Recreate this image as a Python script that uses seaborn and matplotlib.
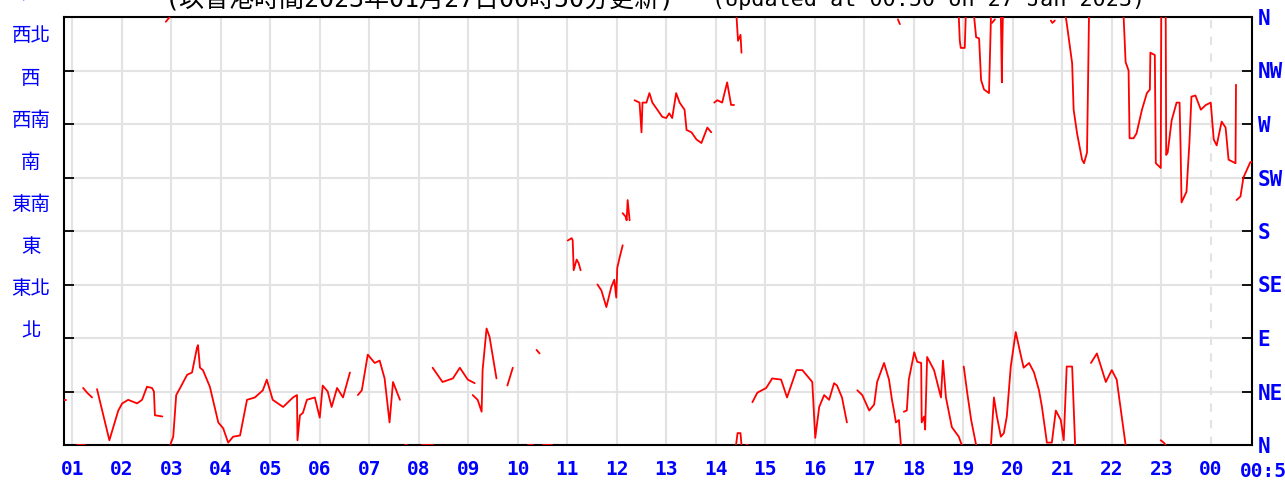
import matplotlib
matplotlib.use("Agg")
import matplotlib.pyplot as plt
import numpy as np
import pandas as pd
import seaborn as sns

# wind direction (deg) against time of day (decimal hours), None = gap in record
hours = [
    0.84, 0.88, None,
    1.10, 1.26, None,
    1.22, 1.30, 1.40, None,
    1.50, 1.75, 1.93, 2.01, 2.13, 2.31, 2.41, 2.51, 2.61, 2.65, 2.67, 2.82, None,
    2.89, 2.97, None,
    2.98, 3.04, 3.10, 3.18, 3.32, 3.42, 3.52, 3.54, 3.58, 3.64, 3.78, 3.95,
    4.05, 4.15, 4.25, 4.39, 4.53, 4.69, 4.85, 4.93, 5.05, 5.26, 5.46, 5.54,
    5.55, 5.60, 5.66, 5.74, 5.90, 6.00, 6.06, 6.16, 6.24, 6.35, 6.47, 6.61, None,
    6.77, 6.85, 6.97, 7.11, 7.21, 7.31, 7.41, 7.48, 7.62, None,
    7.72, 7.76, None,
    8.06, 8.28, None,
    8.28, 8.48, 8.69, 8.83, 8.99, 9.13, None,
    9.09, 9.19, 9.27, 9.29, 9.37, 9.43, 9.57, None,
    9.79, 9.90, None,
    10.20, 10.30, None,
    10.38, 10.44, None,
    10.50, 10.70, None,
    11.01, 11.09, 11.11, 11.13, 11.19, 11.23, 11.27, None,
    11.61, 11.69, 11.79, 11.89, 11.95, 11.99, 12.01, 12.06, 12.12, None,
    12.12, 12.18, 12.20, 12.22, 12.26, None,
    12.36, 12.46, 12.50, 12.52, 12.60, 12.66, 12.72, 12.82, 12.92, 13.00, 13.06,
    13.12, 13.20, 13.27, 13.37, 13.41, 13.51, 13.61, 13.71, 13.83, 13.91, None,
    13.97, 14.03, 14.13, 14.23, 14.31, 14.37, None,
    14.42, 14.45, 14.50, 14.52, None,
    14.41, 14.44, 14.50, 14.52, None,
    14.62, 14.66, None,
    14.74, 14.84, 15.02, 15.14, 15.32, 15.44, 15.63, 15.75, 15.95, 16.01, 16.09,
    16.19, 16.29, 16.39, 16.45, 16.55, 16.65, None,
    16.86, 16.96, 17.10, 17.20, 17.26, 17.40, 17.50, 17.56, 17.60, 17.64, 17.70, 17.74, None,
    17.68, 17.72, None,
    17.80, 17.86, 17.90, 18.01, 18.07, 18.15, 18.16, 18.21, 18.23, 18.27, 18.41,
    18.55, 18.59, 18.65, 18.77, 18.91, 18.97, None,
    19.01, 19.08, 19.16, 19.26, None,
    19.56, 19.62, 19.68, 19.76, 19.82, 19.88, 19.96, 20.06, 20.16, 20.22, 20.33,
    20.43, 20.53, 20.59, 20.69, 20.79, 20.87, 20.97, 21.03, 21.09, 21.20, 21.26, None,
    21.58, 21.70, 21.88, 22.00, 22.10, 22.28, None,
    22.99, 23.05, 23.09, None,
    18.91, 18.93, 18.95, 19.03, 19.05, None,
    19.22, 19.26, 19.32, 19.36, 19.42, 19.52, 19.56, None,
    19.58, 19.64, None,
    19.76, 19.78, 19.79, 19.80, None,
    20.77, 20.80, 20.85, None,
    21.07, 21.09, 21.20, 21.23, 21.30, 21.40, 21.44, 21.50, 21.52, 21.54, None,
    22.24, 22.28, 22.34, 22.36, 22.44, 22.50, 22.61, 22.71, 22.77, 22.78, 22.87,
    22.89, 22.99, 23.00, None,
    23.09, 23.10, 23.13, 23.21, 23.31, 23.37, 23.39, 23.41, 23.51, 23.57, 23.61,
    23.69, 23.80, 23.90, 24.00, 24.06, 24.12, 24.22, 24.30, 24.36, 24.50, 24.51, None,
    24.52, 24.60, 24.66, 24.80, 24.83,
]
direction = [
    38, 38, None,
    0, 0, None,
    48, 44, 40, None,
    47, 4, 29, 35, 38, 35, 38, 49, 48, 45, 25, 24, None,
    356, 360, None,
    0, 7, 42, 48, 59, 61, 82, 84, 65, 63, 49, 19,
    14, 2, 7, 8, 38, 40, 46, 55, 38, 32, 40, 42,
    4, 25, 27, 38, 40, 23, 50, 45, 32, 48, 40, 61, None,
    42, 46, 76, 69, 71, 56, 19, 53, 38, None,
    0, 0, None,
    0, 0, None,
    65, 53, 56, 65, 55, 52, None,
    42, 38, 28, 63, 98, 91, 56, None,
    50, 65, None,
    0, 0, None,
    80, 77, None,
    0, 0, None,
    172, 174, 172, 147, 156, 153, 147, None,
    135, 130, 116, 133, 139, 124, 149, 158, 168, None,
    195, 192, 189, 206, 189, None,
    290, 288, 263, 288, 288, 296, 288, 282, 276, 275, 279,
    275, 296, 288, 282, 265, 263, 257, 254, 267, 263, None,
    288, 290, 288, 305, 286, 286, None,
    360, 340, 345, 330, None,
    0, 10, 10, 0, None,
    0, 0, None,
    36, 44, 48, 56, 55, 40, 63, 63, 53, 6, 32,
    42, 38, 52, 50, 40, 19, None,
    46, 42, 29, 34, 53, 69, 55, 38, 29, 19, 21, 0, None,
    358, 354, None,
    28, 29, 55, 78, 70, 69, 19, 24, 13, 74, 63,
    40, 71, 40, 15, 7, 0, None,
    66, 44, 21, 0, None,
    0, 40, 24, 7, 10, 24, 66, 95, 76, 65, 69,
    61, 46, 32, 2, 2, 29, 21, 4, 66, 66, 0, None,
    69, 77, 53, 63, 55, 0, None,
    4, 2, 0, None,
    360, 340, 334, 334, 360, None,
    360, 343, 342, 307, 299, 296, 360, None,
    355, 358, None,
    360, 305, 338, 360, None,
    357, 355, 357, None,
    360, 355, 321, 282, 262, 240, 237, 246, 301, 360, None,
    360, 322, 315, 258, 258, 262, 282, 296, 299, 330, 328,
    237, 233, 360, None,
    360, 244, 246, 273, 288, 288, 251, 204, 213, 255, 293,
    294, 282, 286, 288, 257, 252, 272, 267, 240, 237, 303, None,
    206, 209, 225, 238, 238,
]

hour_labels = ["01", "02", "03", "04", "05", "06", "07", "08", "09", "10", "11", "12",
               "13", "14", "15", "16", "17", "18", "19", "20", "21", "22", "23", "00"]
compass_en = ["N", "NE", "E", "SE", "S", "SW", "W", "NW", "N"]
compass_zh = ["北", "西北", "西", "西南", "南", "東南", "東", "東北", "北"]
end_label = "00:50"
title_zh = "(以香港時間2023年01月27日00時50分更新)"
title_en = "(Updated at 00:50 on 27 Jan 2023)"

df = pd.DataFrame({"hour": hours, "direction": direction}, dtype=float)
df["seg"] = df["hour"].isna().cumsum()
df = df.dropna()

sns.set_style("white")
plt.rcParams["font.family"] = ["DejaVu Sans Mono", "Noto Sans CJK TC"]

W, H = 1285, 483
fig = plt.figure(figsize=(W / 100, H / 100), dpi=100)
ax = fig.add_axes([64 / W, 38 / H, 1188 / W, 428 / H])

sns.lineplot(data=df, x="hour", y="direction", units="seg", estimator=None,
             sort=False, color="#ff0000", lw=1.3, ax=ax, legend=False, zorder=3)

ax.set_xlim(0.8333, 24.8333)
ax.set_ylim(0, 360)
ax.set_xticks(np.arange(1, 25))
ax.set_xticklabels(hour_labels)
ax.set_yticks(np.arange(0, 361, 45))
ax.set_yticklabels(compass_en)
ax.set_xlabel("")
ax.set_ylabel("")

ax.grid(True, color="#e3e3e3", lw=1.5)
ax.set_axisbelow(True)
ax.xaxis.get_gridlines()[23].set_linestyle((0, (4, 4)))

for s in ax.spines.values():
    s.set_color("black")
    s.set_linewidth(1.5)

ax.tick_params(axis="both", direction="in", length=7, width=1.3, color="black",
               labelcolor="#0000ff", labelsize=14)
ax.tick_params(axis="x", pad=11)
ax.tick_params(axis="y", left=True, right=True, labelleft=False, labelright=True,
               pad=4, labelsize=15)
for lab in ax.get_xticklabels() + ax.get_yticklabels():
    lab.set_fontweight("bold")

fig.text(1240 / W, 21 / H, end_label, color="#0000ff", fontsize=14,
         fontweight="bold", ha="left", va="top")

for i, lab in enumerate(compass_zh):
    ax.text(-0.0278, 1.054 - i * 0.0983, lab, transform=ax.transAxes,
            ha="center", va="center", color="#0000ff", fontsize=14,
            family=["Noto Sans CJK TC", "DejaVu Sans"])

fig.text(165 / W, 477 / H, title_zh, ha="left", va="baseline", fontsize=18, color="black")
fig.text(712 / W, 477 / H, title_en, ha="left", va="baseline", fontsize=15.7, color="black")

fig.savefig("out.png", dpi=100, facecolor="white")
